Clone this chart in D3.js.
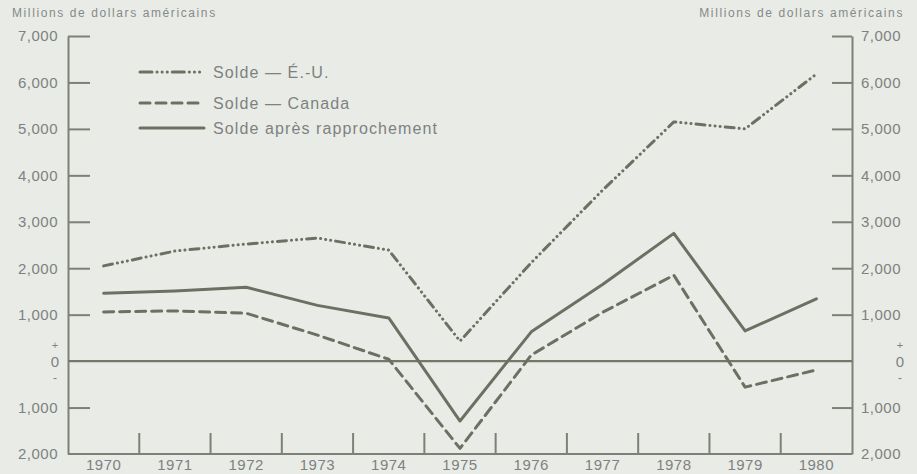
<!DOCTYPE html>
<html lang="fr">
<head>
<meta charset="utf-8">
<title>Solde</title>
<script src="https://cdn.jsdelivr.net/npm/d3@7"></script>
<style>
  body { margin: 0; background: #e9ece6; }
  svg { display: block; font-family: "Liberation Sans", Arial, sans-serif; }
  .axis text { fill: #7d8182; font-size: 15px; letter-spacing: 0.5px; }
  .axis path, .axis line { stroke: #7d8077; stroke-width: 2; }
</style>
</head>
<body>
<div id="chart"></div>
<script>
// data
var years = ["1970","1971","1972","1973","1974","1975","1976","1977","1978","1979","1980"];
var soldeEU = [2050, 2370, 2520, 2650, 2390, 430, 2120, 3680, 5150, 5000, 6180];
var soldeCanada = [1060, 1080, 1030, 560, 40, -1880, 130, 1050, 1850, -560, -190];
var soldeRappro = [1460, 1510, 1590, 1200, 930, -1290, 630, 1650, 2750, 650, 1340];
var yTicks = [-2000, -1000, 1000, 2000, 3000, 4000, 5000, 6000, 7000];
var legendLabels = ["Solde \u2014 \u00C9.-U.", "Solde \u2014 Canada", "Solde apr\u00E8s rapprochement"];
var unitLabel = "Millions de dollars am\u00E9ricains";

var w = 917, h = 474;
var ink = "#6c7063";

var svg = d3.select("#chart").append("svg")
  .attr("width", w)
  .attr("height", h);

var x = d3.scaleBand().domain(years).range([68, 852]).padding(0);
var y = d3.scaleLinear().domain([-2000, 7000]).range([454, 36]);

var fmt = function(v) { return d3.format(",")(Math.abs(v)); };

// left axis, ticks pointing inside
svg.append("g").attr("class", "axis")
  .attr("transform", "translate(68,0)")
  .call(d3.axisLeft(y).tickValues(yTicks).tickSize(-22).tickSizeOuter(0).tickPadding(10).tickFormat(fmt));

// right axis
svg.append("g").attr("class", "axis")
  .attr("transform", "translate(852,0)")
  .call(d3.axisRight(y).tickValues(yTicks).tickSize(-20).tickSizeOuter(0).tickPadding(9).tickFormat(fmt));

// hide the tick marks at -2000 (bottom line takes its place)
svg.selectAll(".axis .tick").filter(function(d) { return d === -2000; }).select("line").remove();

// bottom axis: year labels centred in the bands
var xAxis = svg.append("g").attr("class", "axis")
  .attr("transform", "translate(0,454)")
  .call(d3.axisBottom(x).tickSize(0).tickPadding(5));
xAxis.select(".domain").remove();

// bottom line and band separators
svg.append("line")
  .attr("x1", 68).attr("x2", 852).attr("y1", y(-2000)).attr("y2", y(-2000))
  .attr("stroke", "#7d8077").attr("stroke-width", 2);
svg.selectAll(".sep")
  .data(years.slice(1))
  .enter().append("line")
  .attr("class", "sep")
  .attr("x1", function(d) { return x(d); })
  .attr("x2", function(d) { return x(d); })
  .attr("y1", y(-2000))
  .attr("y2", y(-2000) - 21)
  .attr("stroke", "#7d8077").attr("stroke-width", 2);

// zero line
svg.append("line")
  .attr("x1", 68).attr("x2", 852).attr("y1", y(0)).attr("y2", y(0))
  .attr("stroke", "#747869").attr("stroke-width", 2.2);

// zero labels with + and -
[55, 900].forEach(function(cx) {
  var g = svg.append("g").attr("fill", "#7d8182").attr("text-anchor", "middle");
  g.append("text").attr("x", cx).attr("y", y(0) - 12).attr("font-size", 11).text("+");
  g.append("text").attr("x", cx).attr("y", y(0) + 6).attr("font-size", 15).text("0");
  g.append("text").attr("x", cx).attr("y", y(0) + 21).attr("font-size", 12).text("-");
});

// unit labels
svg.append("text").attr("x", 12).attr("y", 17)
  .attr("font-size", 12).attr("letter-spacing", 1.6).attr("fill", "#85898b").text(unitLabel);
svg.append("text").attr("x", 904).attr("y", 17).attr("text-anchor", "end")
  .attr("font-size", 12).attr("letter-spacing", 1.6).attr("fill", "#85898b").text(unitLabel);

var dashes = ["9,5,0.1,5,0.1,5,0.1,5", "10,6", null];
var series = [soldeEU, soldeCanada, soldeRappro];

var line = d3.line()
  .x(function(d, i) { return x(years[i]) + x.bandwidth() / 2; })
  .y(function(d) { return y(d); });

series.forEach(function(s, k) {
  svg.append("path")
    .datum(s)
    .attr("d", line)
    .attr("fill", "none")
    .attr("stroke", ink)
    .attr("stroke-width", 3)
    .attr("stroke-linecap", "round")
    .attr("stroke-linejoin", "round")
    .attr("stroke-dasharray", dashes[k]);
});

// legend
var legendY = [72, 103, 128];
legendLabels.forEach(function(t, k) {
  svg.append("line")
    .attr("x1", 140).attr("x2", 204)
    .attr("y1", legendY[k]).attr("y2", legendY[k])
    .attr("stroke", ink).attr("stroke-width", 3)
    .attr("stroke-linecap", "round")
    .attr("stroke-dasharray", k === 0 ? "12,5,0.1,5,0.1,5,0.1,5" : dashes[k]);
  svg.append("text")
    .attr("x", 213).attr("y", legendY[k] + 6)
    .attr("font-size", 16).attr("letter-spacing", 1.1).attr("fill", "#7d8182")
    .text(t);
});
</script>
</body>
</html>
